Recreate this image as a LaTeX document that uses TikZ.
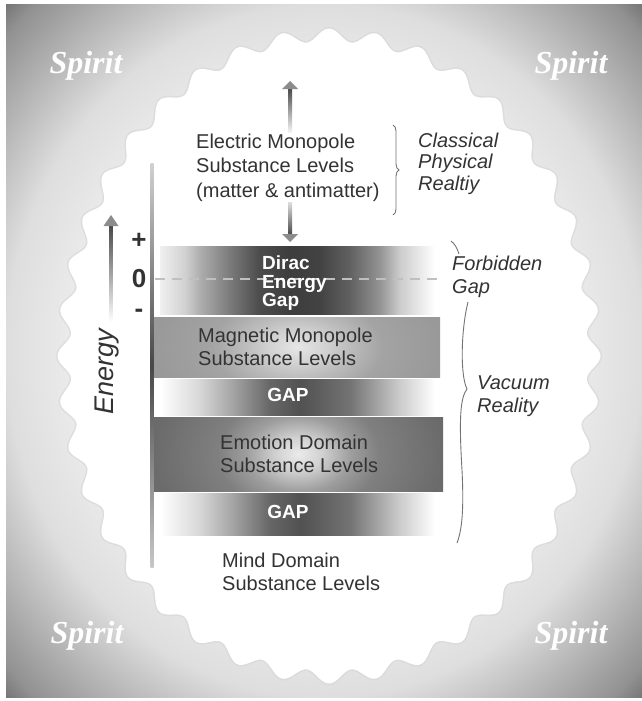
\documentclass[tikz,border=0pt]{standalone}
\usepackage{fontspec}
\setmainfont{Liberation Sans}
\newfontfamily\spiritfont{Liberation Serif}
\usetikzlibrary{decorations.pathreplacing}

\pgfdeclareradialshading{bgsh}{\pgfpoint{0bp}{0bp}}{color(0bp)=(white); color(15bp)=(black!3); color(25bp)=(black!13); color(28.5bp)=(black!25); color(33.8bp)=(black!43); color(35.4bp)=(black!54); color(50bp)=(black!56)}
\pgfdeclarehorizontalshading{diracsh}{100bp}{color(0bp)=(white); color(25bp)=(black!6); color(29.5bp)=(black!18); color(32.3bp)=(black!32); color(37.7bp)=(black!52); color(43bp)=(black!70); color(48.6bp)=(black!76); color(54bp)=(black!74); color(59.5bp)=(black!62); color(65bp)=(black!42); color(68.6bp)=(black!20); color(75bp)=(white); color(100bp)=(white)}
\pgfdeclarehorizontalshading{gapsh}{100bp}{color(0bp)=(white); color(25bp)=(white); color(32bp)=(black!15); color(38bp)=(black!35); color(45bp)=(black!60); color(50.5bp)=(black!68); color(59.5bp)=(black!55); color(68.6bp)=(black!20); color(75bp)=(white); color(100bp)=(white)}
\pgfdeclareradialshading{emosh}{\pgfpoint{0bp}{0bp}}{color(0bp)=(black!8); color(4bp)=(black!18); color(9bp)=(black!38); color(14bp)=(black!50); color(25bp)=(black!58); color(36bp)=(black!60); color(50bp)=(black!60)}
\pgfdeclareradialshading{magsh}{\pgfpoint{0bp}{0bp}}{color(0bp)=(black!10); color(5bp)=(black!18); color(9bp)=(black!26); color(15bp)=(black!36); color(25bp)=(black!40); color(50bp)=(black!40)}

\tikzset{
  lbl/.style={font=\fontsize{20}{23}\selectfont, text=black!80, align=left, inner sep=0pt, anchor=west},
  ital/.style={font=\itshape\fontsize{20}{22}\selectfont, text=black!80, align=left, inner sep=0pt, anchor=west},
  gaptxt/.style={font=\bfseries\fontsize{19}{19}\selectfont, text=white, inner sep=0pt},
  sign/.style={font=\bfseries\fontsize{26}{26}\selectfont, text=black!80, inner sep=0pt},
  spirit/.style={font=\spiritfont\bfseries\itshape\fontsize{32}{32}\selectfont, text=white, inner sep=0pt},
  bracestyle/.style={draw=black!55, line width=0.9pt},
  headfill/.style={fill=black!45, draw=none},
}

\begin{document}
\begin{tikzpicture}[x=1pt,y=-1pt]
\useasboundingbox (0,0) rectangle (642,701);
\fill[white] (0,0) rectangle (642,701);
% background
\shade[shading=bgsh] (6,5) rectangle (642,697);
% scalloped cloud
\def\cloudpath{plot[domain=0:360, samples=721, variable=\t] ({329+(265+6.5*cos(40*(\t+2.72*sin(2*\t))))*cos(\t)}, {356+(321+6.5*cos(40*(\t+2.72*sin(2*\t))))*sin(\t)}) -- cycle}
\draw[black!16, line width=3pt, opacity=0.6] \cloudpath;
\fill[white] \cloudpath;

% Spirit labels
\node[spirit] (sp1) at (86,66) {Spirit};
\node[spirit] (sp2) at (571,66) {Spirit};
\node[spirit] (sp3) at (87,636) {Spirit};
\node[spirit] (sp4) at (571,636) {Spirit};

% bands
\shade[shading=diracsh] (160,246) rectangle (435,314);
\begin{scope}
  \clip (154,317) rectangle (440,377);
  \shade[shading=magsh] (154,264) rectangle (440,430);
\end{scope}
\shade[shading=gapsh] (160,379) rectangle (435,415);
\begin{scope}
  \clip (154,417) rectangle (443,491);
  \shade[shading=emosh] (154,351) rectangle (443,557);
\end{scope}
\shade[shading=gapsh] (160,493) rectangle (435,535);

% zero dashed line
\coordinate (z0) at (155,279);
\coordinate (z1) at (440,279);
\draw[black!25, line width=1.3pt, dash pattern=on 10pt off 7pt] (z0) -- (z1);

% axis line
\shade[top color=black!18, bottom color=black!22, middle color=black!72] (150.5,163) rectangle (153.5,567);

% energy arrow
\shade[top color=black!72, bottom color=white] (109.5,225) rectangle (112.5,322);
\fill[headfill] (103.5,226) -- (118.5,226) -- (111,215) -- cycle;
\node[font=\itshape\fontsize{27}{27}\selectfont, text=black!80, rotate=90, inner sep=0pt] (energy) at (107,372) {Energy};

% signs
\node[sign] (plus) at (139,241) {+};
\node[sign] (zero) at (139,279) {0};
\node[sign] (minus) at (139,313) {-};

% top double arrow
\shade[top color=black!72, bottom color=white] (288,88) rectangle (292,135);
\fill[headfill] (282,89) -- (298,89) -- (290,81) -- cycle;
\shade[top color=white, bottom color=black!72] (288,195) rectangle (292,235);
\fill[headfill] (282,234) -- (298,234) -- (290,242) -- cycle;

% texts
\node[lbl, fill=white, inner sep=1pt, font=\fontsize{20}{24.5}\selectfont] (elec) at (195,167.5) {Electric Monopole\\Substance Levels\\(matter \& antimatter)};
\node[font=\bfseries\fontsize{19}{18.5}\selectfont, text=white, align=left, inner sep=0pt, anchor=west] (dirac) at (262,283.5) {Dirac\\Energy\\Gap};
\node[lbl] (mag) at (198,346.5) {Magnetic Monopole\\Substance Levels};
\node[gaptxt] (gap1) at (288,395) {GAP};
\node[lbl] (emo) at (220,453.5) {Emotion Domain\\Substance Levels};
\node[gaptxt] (gap2) at (288,512) {GAP};
\node[lbl] (mind) at (222,572) {Mind Domain\\Substance Levels};

\node[ital, font=\itshape\fontsize{20}{21.5}\selectfont] (classical) at (418,163.5) {Classical\\Physical\\Realtiy};
\node[ital, font=\itshape\fontsize{20}{23}\selectfont] (forbidden) at (452,276.5) {Forbidden\\Gap};
\node[ital, font=\itshape\fontsize{20}{23}\selectfont] (vacuum) at (477,396.5) {Vacuum\\Reality};

% braces
\draw[bracestyle, decorate, decoration={brace, amplitude=6pt}] (393,125) -- (393,215);
\draw[bracestyle] (451,241) .. controls (455,244) and (457,248) .. (459,254);
\draw[bracestyle] (468,302) .. controls (461,330) and (460,375) .. (467,389) .. controls (460,398) and (459,420) .. (462,470) .. controls (464,510) and (462,530) .. (457,543);
\end{tikzpicture}
\end{document}
